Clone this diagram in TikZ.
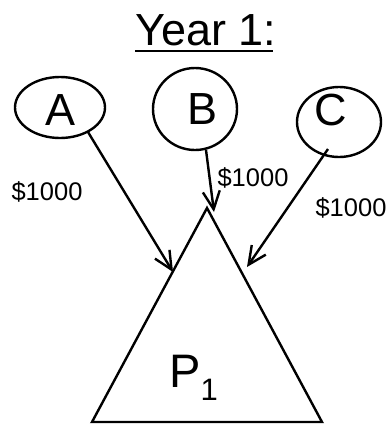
\documentclass[tikz,border=0pt]{standalone}
\usepackage{fontspec}
\setmainfont{Liberation Sans}
\usetikzlibrary{arrows.meta,shapes.geometric}
\begin{document}
\begin{tikzpicture}[x=1pt,y=-1pt,
  lw/.style={line width=2.4pt},
  oval/.style={ellipse,draw,line width=2.4pt,inner sep=0pt},
  big/.style={font=\fontsize{45}{50}\selectfont,inner sep=0pt},
  money/.style={font=\fontsize{25.5}{28}\selectfont,inner sep=0pt},
  flow/.style={line width=2.4pt,-{Straight Barb[length=18pt,width=17pt,line width=2.4pt]}}]
\useasboundingbox (0,0) rectangle (389,424);
% title
\node[big,anchor=base] (title) at (206,45) {Year 1:};
\draw[lw] ([yshift=-6pt]title.base west) -- ([yshift=-6pt,xshift=-4pt]title.base east);
% sources
\node[oval,minimum width=90pt,minimum height=61pt] (A) at (60,107.5) {};
\node[oval,minimum width=84pt,minimum height=82pt] (B) at (195,109) {};
\node[oval,minimum width=84pt,minimum height=70pt] (C) at (339,122) {};
\node[big] (tA) at (61,110) {A};
\node[big] (tB) at (203,109) {B};
\node[big] (tC) at (331,110) {C};
% triangle
\coordinate (tl) at (92,422);
\coordinate (tr) at (322,422);
\coordinate (tp) at (207,208);
\draw[lw,line join=miter] (tl) -- (tp) -- (tr) -- cycle;
\node[font=\fontsize{47}{50}\selectfont,inner sep=0pt,anchor=base west] (P) at (169,387) {P\raisebox{-13pt}{\fontsize{31}{31}\selectfont 1}};
% arrows
\coordinate (sA) at (88,132);
\coordinate (eA) at (173,272);
\coordinate (sB) at (206,150);
\coordinate (eB) at (214,212);
\coordinate (sC) at (328,149);
\coordinate (eC) at (247,267);
\draw[flow] (sA) -- (eA);
\draw[flow] (sB) -- (eB);
\draw[flow] (sC) -- (eC);
% labels
\node[money] (mA) at (47,192) {\$1000};
\node[money] (mB) at (253,178) {\$1000};
\node[money] (mC) at (351,208) {\$1000};
\end{tikzpicture}
\end{document}
